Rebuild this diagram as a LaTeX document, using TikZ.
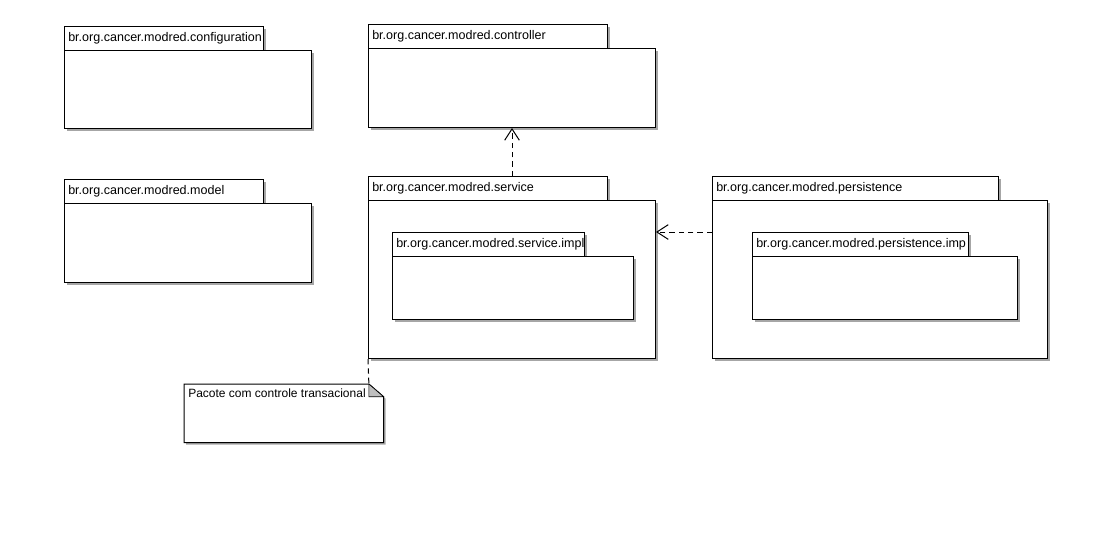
\documentclass[tikz,border=0pt]{standalone}
\usepackage{fontspec}
\setmainfont{Liberation Sans}
\usetikzlibrary{shadows,arrows.meta}

\newcommand\umlpkg[7]{%
  \pgfmathsetmacro\pkgtabw{#4*0.75}%
  \pgfmathsetmacro\pkgbodyw{#5*0.75}%
  \pgfmathsetmacro\pkgbodyh{#6*0.75}%
  \node[tabbox, minimum width=\pkgtabw pt] (#1-tab) at (#2,#3) {};
  \node[pkglabel] (#1-label) at ([xshift=3pt]#1-tab.west) {#7};
  \node[bodybox, minimum width=\pkgbodyw pt, minimum height=\pkgbodyh pt] (#1) at (#2,#3+24) {};
}

\begin{document}
\begin{tikzpicture}[x=0.75pt,y=-0.75pt,
  umlline/.style={draw=black, line width=0.75pt},
  shade/.style={drop shadow={shadow xshift=1.5pt,shadow yshift=-1.5pt,fill=black!35,opacity=1}},
  tabbox/.style={umlline, fill=white, shade, anchor=north west, inner sep=0pt, minimum height=18pt},
  bodybox/.style={umlline, fill=white, shade, anchor=north west, inner sep=0pt},
  pkglabel/.style={anchor=west, inner sep=0pt, font=\fontsize{9.4}{11}\selectfont},
  dep/.style={line width=0.75pt, dash pattern=on 4pt off 3pt},
  openarrow/.style={-{Straight Barb[length=8.5pt,width=11pt,line width=0.75pt]}}
]
\useasboundingbox[fill=white] (0,0) rectangle (1112,547);

\umlpkg{configuration}{64}{26}{199}{247}{78}{br.org.cancer.modred.configuration}
\umlpkg{model}{64}{179}{199}{247}{79}{br.org.cancer.modred.model}
\umlpkg{controller}{368}{24}{239}{287}{79}{br.org.cancer.modred.controller}
\umlpkg{service}{368}{176}{239}{287}{158}{br.org.cancer.modred.service}
\umlpkg{serviceimpl}{392}{232}{192}{241}{63}{br.org.cancer.modred.service.impl}
\umlpkg{persistence}{712}{176}{286}{335}{158}{br.org.cancer.modred.persistence}
\umlpkg{persistenceimp}{752}{232}{216}{265}{63}{br.org.cancer.modred.persistence.imp}

% note
\node[anchor=north west, inner sep=0pt, minimum width=149.25pt, minimum height=43.5pt] (note) at (184,384) {};
\path[umlline, fill=white, shade] (note.north west) -- ([xshift=-11pt]note.north east) -- ([yshift=-9.5pt]note.north east) -- (note.south east) -- (note.south west) -- cycle;
\path[umlline, line width=0.5pt, fill=black!25] ([xshift=-11pt]note.north east) -- ([yshift=-9.5pt]note.north east) -- ([xshift=-11pt,yshift=-9.5pt]note.north east) -- cycle;
\node[anchor=north west, inner sep=0pt, font=\fontsize{9.0}{11}\selectfont] (notetext) at ([xshift=3pt,yshift=-3.5pt]note.north west) {Pacote com controle transacional};
\coordinate (notepin) at ([xshift=-11pt]note.north east);

% connectors
\draw[dep] (service.south west) -- (notepin);
\draw[dep, openarrow] (controller.south |- service-tab.north) -- (controller.south);
\draw[dep, openarrow] (persistence.west |- persistenceimp-tab.north) -- (service.east |- persistenceimp-tab.north);
\end{tikzpicture}
\end{document}
